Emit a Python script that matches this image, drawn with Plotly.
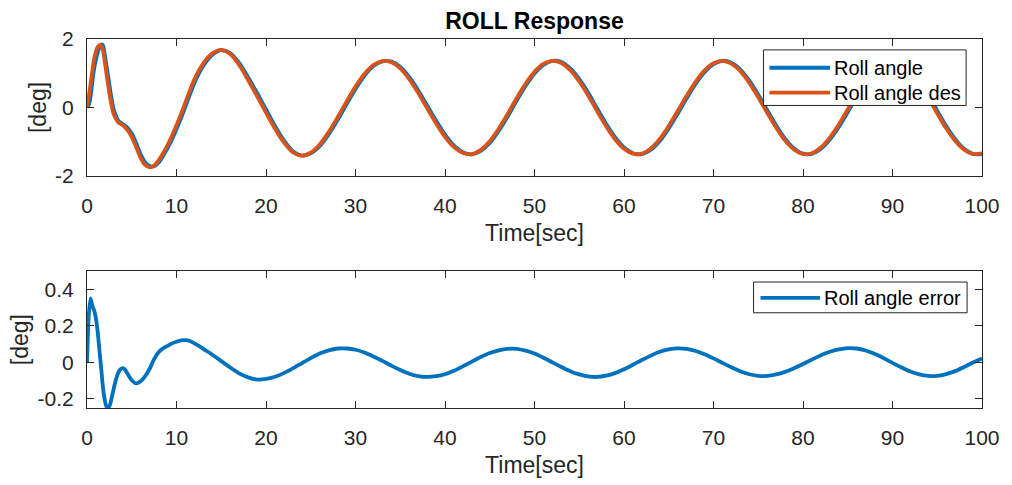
import plotly.graph_objects as go

# ---- data -------------------------------------------------------------
# time base for the roll angle traces [sec]
t_roll = [0, 0.25, 0.5, 0.75, 1.0, 1.25, 1.5, 1.75, 2.0, 2.25, 2.5, 2.75, 3.0,
          3.5, 4.0, 4.5, 5.0, 5.5, 6.0, 6.5, 7.0, 7.5, 8.0, 8.5, 9.0, 9.5,
          10.0, 10.5, 11.0, 11.5, 12.0, 12.5, 13.0, 13.5, 14.0, 14.5, 15.0,
          16, 17, 18, 19, 20, 21, 22, 23, 24, 25, 26, 27, 28, 29, 30,
          31, 32, 33, 34, 35, 36, 37, 38, 39, 40, 41, 42, 43, 44, 45,
          46, 47, 48, 49, 50, 51, 52, 53, 54, 55, 56, 57, 58, 59, 60,
          61, 62, 63, 64, 65, 66, 67, 68, 69, 70, 71, 72, 73, 74, 75,
          76, 77, 78, 79, 80, 81, 82, 83, 84, 85, 86, 87, 88, 89, 90,
          91, 92, 93, 94, 95, 96, 97, 98, 99, 100]

# measured roll angle [deg]
roll_angle = [0.0, 0.11, 0.535, 1.05, 1.405, 1.65, 1.82, 1.83, 1.52, 1.095, 0.66, 0.255, -0.07,
              -0.385, -0.488, -0.59, -0.762, -1.045, -1.377, -1.605, -1.715, -1.72, -1.608, -1.418, -1.19, -0.935,
              -0.633, -0.32, 0.028, 0.382, 0.718, 0.99, 1.216, 1.402, 1.538, 1.625, 1.673,
              1.588, 1.30, 0.882, 0.424, -0.059, -0.541, -0.961, -1.277, -1.405, -1.339, -1.128, -0.786, -0.366, 0.094, 0.541,
              0.926, 1.208, 1.347, 1.338, 1.182, 0.892, 0.505, 0.06, -0.384, -0.795, -1.114, -1.308, -1.369, -1.269, -1.041,
              -0.686, -0.264, 0.196, 0.626, 0.992, 1.245, 1.36, 1.325, 1.138, 0.826, 0.427, -0.03, -0.477, -0.871, -1.172,
              -1.337, -1.363, -1.237, -0.978, -0.611, -0.182, 0.266, 0.688, 1.03, 1.268, 1.363, 1.307, 1.109, 0.785, 0.374,
              -0.081, -0.524, -0.918, -1.198, -1.351, -1.355, -1.209, -0.938, -0.571, -0.138, 0.304, 0.72, 1.053, 1.277, 1.363,
              1.298, 1.09, 0.766, 0.354, -0.101, -0.546, -0.927, -1.21, -1.359, -1.362]

# commanded (desired) roll angle [deg]
roll_angle_des = [0.0, 0.40, 0.88, 1.34, 1.64, 1.79, 1.82, 1.71, 1.31, 0.85, 0.42, 0.06, -0.21,
                  -0.44, -0.52, -0.65, -0.86, -1.16, -1.48, -1.68, -1.75, -1.70, -1.55, -1.34, -1.10, -0.83,
                  -0.52, -0.20, 0.15, 0.50, 0.82, 1.08, 1.29, 1.46, 1.58, 1.65, 1.68,
                  1.56, 1.24, 0.80, 0.33, -0.15, -0.62, -1.02, -1.31, -1.41, -1.32, -1.08, -0.72, -0.29, 0.17, 0.61,
                  0.98, 1.24, 1.355, 1.32, 1.14, 0.83, 0.43, -0.02, -0.46, -0.86, -1.16, -1.33, -1.365, -1.24, -0.99,
                  -0.62, -0.19, 0.27, 0.69, 1.04, 1.27, 1.36, 1.30, 1.09, 0.76, 0.35, -0.11, -0.55, -0.93, -1.21,
                  -1.35, -1.35, -1.20, -0.92, -0.54, -0.105, 0.34, 0.75, 1.075, 1.29, 1.36, 1.28, 1.06, 0.72, 0.30,
                  -0.155, -0.59, -0.97, -1.23, -1.36, -1.34, -1.17, -0.88, -0.50, -0.06, 0.38, 0.785, 1.10, 1.30, 1.36,
                  1.27, 1.04, 0.70, 0.28, -0.175, -0.61, -0.975, -1.235, -1.36, -1.34]

# time base for the tracking error [sec]
t_err = [0, 0.2, 0.4, 0.6, 0.8, 1.0, 1.2, 1.4, 1.6, 1.8, 2.0, 2.2, 2.4, 2.6, 2.8,
         3.0, 3.25, 3.5, 3.75, 4.0, 4.25, 4.5, 4.75, 5.0, 5.5, 6.0, 6.5, 7.0, 7.5,
         8.0, 8.5, 9.0, 9.5, 10.0, 10.5, 11.0, 11.5, 12.0, 12.5, 13.0, 13.5, 14.0,
         14.5, 15.0, 16, 17, 18, 19, 20, 21, 22, 23, 24, 25, 26, 27, 28, 29, 30,
         31, 32, 33, 34, 35, 36, 37, 38, 39, 40, 41, 42, 43, 44, 45,
         46, 47, 48, 49, 50, 51, 52, 53, 54, 55, 56, 57, 58, 59, 60,
         61, 62, 63, 64, 65, 66, 67, 68, 69, 70, 71, 72, 73, 74, 75,
         76, 77, 78, 79, 80, 81, 82, 83, 84, 85, 86, 87, 88, 89, 90,
         91, 92, 93, 94, 95, 96, 97, 98, 99, 100]

# roll angle error [deg]
roll_angle_error = [0.0, 0.26, 0.35, 0.31, 0.285, 0.24, 0.165, 0.06, -0.04, -0.145, -0.21, -0.245, -0.248, -0.228, -0.185,
                    -0.14, -0.092, -0.056, -0.038, -0.032, -0.04, -0.06, -0.08, -0.098, -0.115, -0.103, -0.075, -0.035, 0.018,
                    0.056, 0.077, 0.09, 0.104, 0.113, 0.12, 0.122, 0.117, 0.104, 0.09, 0.074, 0.058, 0.042,
                    0.025, 0.007, -0.028, -0.060, -0.082, -0.094, -0.091, -0.079, -0.059, -0.033, -0.005, 0.023, 0.048, 0.066, 0.076, 0.076, 0.069,
                    0.054, 0.032, 0.008, -0.018, -0.042, -0.062, -0.075, -0.080, -0.076, -0.065, -0.046, -0.022, 0.004, 0.029, 0.051,
                    0.066, 0.074, 0.074, 0.064, 0.048, 0.025, 0.000, -0.025, -0.048, -0.066, -0.077, -0.080, -0.073, -0.059, -0.038,
                    -0.013, 0.013, 0.037, 0.058, 0.071, 0.077, 0.074, 0.062, 0.045, 0.022, -0.003, -0.027, -0.049, -0.065, -0.074,
                    -0.074, -0.066, -0.052, -0.032, -0.009, 0.015, 0.039, 0.058, 0.071, 0.078, 0.076, 0.065, 0.047, 0.023, -0.003,
                    -0.028, -0.050, -0.066, -0.074, -0.074, -0.064, -0.048, -0.025, -0.001, 0.022]

x_ticks = [0, 10, 20, 30, 40, 50, 60, 70, 80, 90, 100]
y_ticks_top = [-2, 0, 2]
y_ticks_bottom = [-0.2, 0, 0.2, 0.4]
y_ticklabels_bottom = ["-0.2", "0", "0.2", "0.4"]

# ---- styling ----------------------------------------------------------
BLUE = "#0072BD"
ORANGE = "#D95319"
INK = "#262626"
FONT = "Liberation Sans, Arial, Helvetica, sans-serif"
LW = 3.8

fig = go.Figure()

fig.add_trace(go.Scatter(x=t_roll, y=roll_angle, mode="lines", name="Roll angle",
                         line=dict(color=BLUE, width=LW, shape="spline", smoothing=0.8),
                         xaxis="x", yaxis="y", showlegend=False))
fig.add_trace(go.Scatter(x=t_roll, y=roll_angle_des, mode="lines", name="Roll angle des",
                         line=dict(color=ORANGE, width=LW, shape="spline", smoothing=0.8),
                         xaxis="x", yaxis="y", showlegend=False))
fig.add_trace(go.Scatter(x=t_err, y=roll_angle_error, mode="lines", name="Roll angle error",
                         line=dict(color=BLUE, width=LW, shape="spline", smoothing=0.6),
                         xaxis="x2", yaxis="y2", showlegend=False, cliponaxis=True))

axis_common = dict(
    showline=True, linecolor=INK, linewidth=1, mirror="ticks",
    ticks="inside", ticklen=7, tickwidth=1, tickcolor=INK,
    showgrid=False, zeroline=False,
    tickfont=dict(family=FONT, size=21, color=INK),
)
xtitle = dict(text="Time[sec]", font=dict(family=FONT, size=23, color=INK), standoff=8)
ytitle = dict(text="[deg]", font=dict(family=FONT, size=23, color=INK), standoff=2)

fig.update_layout(
    width=1012, height=485,
    margin=dict(l=87, r=24, t=39, b=74),
    paper_bgcolor="white", plot_bgcolor="white",
    title=dict(text="<b>ROLL Response</b>", x=0.5, xanchor="center", xref="paper",
               y=1 - 21 / 485, yanchor="middle", yref="container",
               font=dict(family=FONT, size=23, color="black")),
    xaxis=dict(axis_common, domain=[0, 1], anchor="y", range=[0, 100],
               tickvals=x_ticks, ticktext=[str(v) for v in x_ticks],
               ticklabelstandoff=11, title=xtitle),
    yaxis=dict(axis_common, domain=[0.629, 1], anchor="x", range=[-2, 2],
               tickvals=y_ticks_top, ticktext=[str(v) for v in y_ticks_top],
               ticklabelstandoff=8, title=ytitle),
    xaxis2=dict(axis_common, domain=[0, 1], anchor="y2", range=[0, 100],
                tickvals=x_ticks, ticktext=[str(v) for v in x_ticks],
                ticklabelstandoff=11, title=xtitle),
    yaxis2=dict(axis_common, domain=[0, 0.371], anchor="x2", range=[-0.25, 0.5],
                tickvals=y_ticks_bottom, ticktext=y_ticklabels_bottom,
                ticklabelstandoff=8, title=ytitle),
)

# ---- legends (boxed, MATLAB style with long line samples) -------------
# positions are given as pixel offsets along the 901 px wide, 372 px tall plot area
def px_x(p):
    return (p - 87) / 901.0


def px_y(p):
    return (411 - p) / 372.0


def add_legend(box, entries):
    x0, y0, x1, y1 = box
    fig.add_shape(type="rect", xref="paper", yref="paper",
                  x0=px_x(x0), x1=px_x(x1), y0=px_y(y1), y1=px_y(y0),
                  line=dict(color=INK, width=1), fillcolor="white", layer="above")
    for (lx0, lx1, ly, color, label) in entries:
        fig.add_shape(type="line", xref="paper", yref="paper",
                      x0=px_x(lx0), x1=px_x(lx1), y0=px_y(ly), y1=px_y(ly),
                      line=dict(color=color, width=LW), layer="above")
        fig.add_annotation(xref="paper", yref="paper", x=px_x(lx1 + 2), y=px_y(ly),
                           xanchor="left", yanchor="middle", showarrow=False,
                           text=label, font=dict(family=FONT, size=20, color="black"))


add_legend((768, 50, 972, 106), [
    (774, 835, 68, BLUE, "Roll angle"),
    (774, 835, 93, ORANGE, "Roll angle des"),
])
add_legend((758, 284, 973, 315), [
    (765, 825, 300, BLUE, "Roll angle error"),
])

fig.write_html("out.html")
